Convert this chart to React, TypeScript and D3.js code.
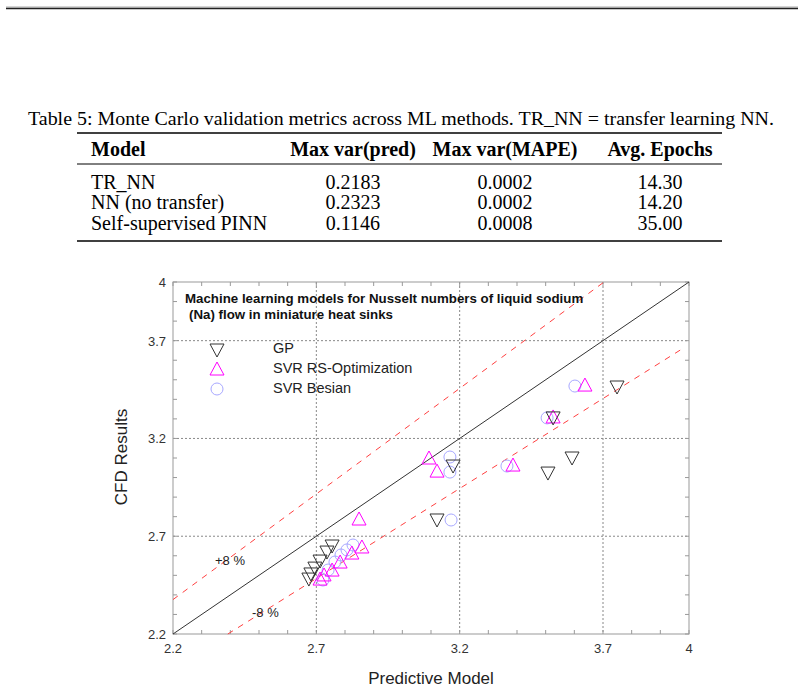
import React from "react";
import * as d3 from "d3";

// Table 5 contents
const tableColumns = ["Model", "Max var(pred)", "Max var(MAPE)", "Avg. Epochs"];
const tableModels = ["TR_NN", "NN (no transfer)", "Self-supervised PINN"];
const maxVarPred = ["0.2183", "0.2323", "0.1146"];
const maxVarMape = ["0.0002", "0.0002", "0.0008"];
const avgEpochs = ["14.30", "14.20", "35.00"];

// Scatter series: [predictive model, CFD result]
const gpPoints: [number, number][] = [
  [3.749, 3.463], [3.526, 3.305], [3.592, 3.1], [3.508, 3.023],
  [3.177, 3.059], [3.121, 2.783], [2.755, 2.65], [2.737, 2.619],
  [2.713, 2.573], [2.695, 2.537], [2.681, 2.507], [2.674, 2.481],
];
const svrRsPoints: [number, number][] = [
  [3.637, 3.473], [3.526, 3.31], [3.386, 3.064], [3.093, 3.1],
  [3.121, 3.033], [2.849, 2.788], [2.859, 2.645], [2.824, 2.614],
  [2.783, 2.568], [2.755, 2.527], [2.727, 2.502], [2.713, 2.481],
];
const svrBesianPoints: [number, number][] = [
  [3.602, 3.468], [3.505, 3.305], [3.365, 3.059], [3.166, 3.105],
  [3.166, 3.028], [3.17, 2.783], [2.828, 2.655], [2.807, 2.63],
  [2.786, 2.604], [2.765, 2.568], [2.741, 2.527], [2.723, 2.476],
];

const tickLabels = [2.2, 2.7, 3.2, 3.7, 4];
const gridValues = [2.7, 3.2, 3.7];
const seriesNames = ["GP", "SVR RS-Optimization", "SVR Besian"];

const W = 804;
const H = 689;
const plot = { left: 173, right: 689, top: 282, bottom: 634 };
const domain: [number, number] = [2.2, 4];

const sans = "'Liberation Sans', Arial, sans-serif";
const serif = "'Liberation Serif', 'Times New Roman', serif";

const GP_COLOR = "#333333";
const RS_COLOR = "#ff00ff";
const BES_COLOR = "#a8a8ff";

function TriDown({ x, y }: { x: number; y: number }) {
  return (
    <path
      d={`M${x - 7},${y - 6} L${x + 7},${y - 6} L${x},${y + 7} Z`}
      fill="none"
      stroke={GP_COLOR}
      strokeWidth={1}
    />
  );
}
function TriUp({ x, y }: { x: number; y: number }) {
  return (
    <path
      d={`M${x - 7},${y + 6} L${x + 7},${y + 6} L${x},${y - 7} Z`}
      fill="none"
      stroke={RS_COLOR}
      strokeWidth={1}
    />
  );
}
function Ring({ x, y }: { x: number; y: number }) {
  return <circle cx={x} cy={y} r={6} fill="none" stroke={BES_COLOR} strokeWidth={1} />;
}

export default function App() {
  const xs = d3.scaleLinear().domain(domain).range([plot.left, plot.right]);
  const ys = d3.scaleLinear().domain(domain).range([plot.bottom, plot.top]);
  const minorTicks = d3.range(22, 41).map((v) => v / 10);

  const colX = [91, 353, 505, 660];
  const rowY = [189, 209, 230];

  const diag = d3.line<[number, number]>().x((d) => xs(d[0])).y((d) => ys(d[1]));
  const upperLine: [number, number][] = [[2.2, 2.2 * 1.08], [4 / 1.08, 4]];
  const lowerLine: [number, number][] = [[2.2 / 0.92, 2.2], [3.97, 3.97 * 0.92]];
  const identity: [number, number][] = [[2.2, 2.2], [4, 4]];

  return (
    <svg
      width={W}
      height={H}
      viewBox={`0 0 ${W} ${H}`}
      style={{ position: "absolute", left: 0, top: 0, background: "#fff" }}
    >
      <rect width={W} height={H} fill="#fff" />
      {/* page rule */}
      <line x1={6} x2={798} y1={7} y2={7} stroke="#aaa" strokeWidth={1} />
      <line x1={6} x2={798} y1={8.5} y2={8.5} stroke="#222" strokeWidth={1.5} />

      {/* table */}
      <g fontFamily={serif} fill="#000">
        <text x={28} y={125} fontSize={19} textLength={746} lengthAdjust="spacingAndGlyphs">
          Table 5: Monte Carlo validation metrics across ML methods. TR_NN = transfer learning NN.
        </text>
        <line x1={77} x2={722} y1={133} y2={133} stroke="#000" strokeWidth={1.6} />
        <line x1={77} x2={722} y1={164} y2={164} stroke="#000" strokeWidth={1} />
        <line x1={77} x2={722} y1={241} y2={241} stroke="#000" strokeWidth={1.6} />
        <g fontWeight="bold" fontSize={20}>
          <text x={colX[0]} y={156}>{tableColumns[0]}</text>
          <text x={colX[1]} y={156} textAnchor="middle">{tableColumns[1]}</text>
          <text x={colX[2]} y={156} textAnchor="middle">{tableColumns[2]}</text>
          <text x={colX[3]} y={156} textAnchor="middle">{tableColumns[3]}</text>
        </g>
        <g fontSize={20}>
          {tableModels.map((m, i) => (
            <g key={m}>
              <text x={colX[0]} y={rowY[i]}>{m}</text>
              <text x={colX[1]} y={rowY[i]} textAnchor="middle">{maxVarPred[i]}</text>
              <text x={colX[2]} y={rowY[i]} textAnchor="middle">{maxVarMape[i]}</text>
              <text x={colX[3]} y={rowY[i]} textAnchor="middle">{avgEpochs[i]}</text>
            </g>
          ))}
        </g>
      </g>

      {/* grid */}
      <g stroke="#888" strokeWidth={1} strokeDasharray="2,2">
        {gridValues.map((v) => (
          <line key={"gx" + v} x1={xs(v)} x2={xs(v)} y1={plot.top} y2={plot.bottom} />
        ))}
        {gridValues.map((v) => (
          <line key={"gy" + v} x1={plot.left} x2={plot.right} y1={ys(v)} y2={ys(v)} />
        ))}
      </g>

      {/* frame and inward ticks */}
      <g stroke="#999" strokeWidth={1}>
        <rect
          x={plot.left}
          y={plot.top}
          width={plot.right - plot.left}
          height={plot.bottom - plot.top}
          fill="none"
        />
        {minorTicks.map((v) => (
          <g key={"t" + v}>
            <line x1={xs(v)} x2={xs(v)} y1={plot.bottom} y2={plot.bottom - 4} />
            <line x1={xs(v)} x2={xs(v)} y1={plot.top} y2={plot.top + 4} />
            <line x1={plot.left} x2={plot.left + 4} y1={ys(v)} y2={ys(v)} />
            <line x1={plot.right} x2={plot.right - 4} y1={ys(v)} y2={ys(v)} />
          </g>
        ))}
      </g>

      {/* reference lines */}
      <path d={diag(identity) ?? ""} stroke="#333" strokeWidth={1} fill="none" />
      <path d={diag(upperLine) ?? ""} stroke="#ff4040" strokeWidth={1} strokeDasharray="6,6" fill="none" />
      <path d={diag(lowerLine) ?? ""} stroke="#ff4040" strokeWidth={1} strokeDasharray="6,6" fill="none" />

      {/* tick labels */}
      <g fontFamily={sans} fontSize={13} fill="#333">
        {tickLabels.map((v) => (
          <text key={"xl" + v} x={xs(v)} y={653} textAnchor="middle">{String(v)}</text>
        ))}
        {tickLabels.map((v) => (
          <text key={"yl" + v} x={166} y={ys(v) + 5} textAnchor="end">{String(v)}</text>
        ))}
      </g>

      {/* axis titles */}
      <text x={431} y={684} fontFamily={sans} fontSize={17} fill="#222" textAnchor="middle">
        Predictive Model
      </text>
      <text
        transform={`translate(127,457) rotate(-90)`}
        fontFamily={sans}
        fontSize={17}
        fill="#222"
        textAnchor="middle"
      >
        CFD Results
      </text>

      {/* in-plot title */}
      <g fontFamily={sans} fontSize={13.3} fontWeight="bold" fill="#111">
        <text x={185} y={303}>Machine learning models for Nusselt numbers of liquid sodium</text>
        <text x={189} y={319}>(Na) flow in miniature heat sinks</text>
      </g>

      {/* legend */}
      <TriDown x={217} y={350} />
      <TriUp x={217} y={369} />
      <Ring x={217} y={389} />
      <g fontFamily={sans} fontSize={14.5} fill="#222">
        <text x={273} y={353}>{seriesNames[0]}</text>
        <text x={273} y={373}>{seriesNames[1]}</text>
        <text x={273} y={393}>{seriesNames[2]}</text>
      </g>

      {/* band labels */}
      <g fontFamily={sans} fontSize={13} fill="#222">
        <text x={215} y={565}>+8 %</text>
        <text x={252} y={617}>-8 %</text>
      </g>

      {/* data markers */}
      {svrBesianPoints.map((p, i) => (
        <Ring key={"b" + i} x={xs(p[0])} y={ys(p[1])} />
      ))}
      {svrRsPoints.map((p, i) => (
        <TriUp key={"r" + i} x={xs(p[0])} y={ys(p[1])} />
      ))}
      {gpPoints.map((p, i) => (
        <TriDown key={"g" + i} x={xs(p[0])} y={ys(p[1])} />
      ))}
    </svg>
  );
}
